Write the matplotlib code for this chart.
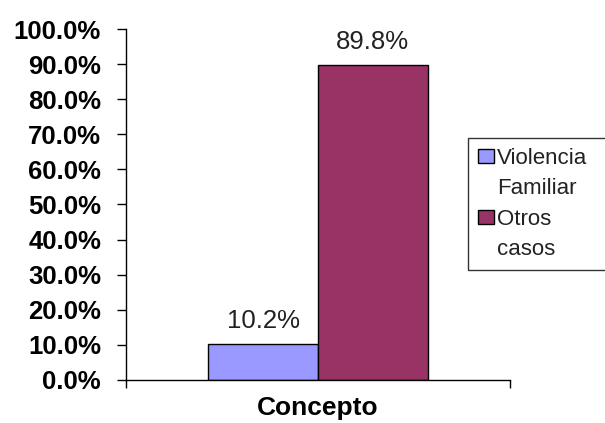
import numpy as np
import matplotlib.pyplot as plt
from matplotlib.patches import Patch

plt.rcParams['font.family'] = ['Liberation Sans', 'DejaVu Sans']

# data
categoria = ['Concepto']
series = ['Violencia\nFamiliar', 'Otros\ncasos']
valores = [10.2, 89.8]
colores = ['#9999FF', '#993366']
yticks = np.arange(0, 101, 10)

fig = plt.figure(figsize=(6.05, 4.23), dpi=100)
ax = fig.add_axes([0.2083, 0.1017, 0.6347, 0.8297])

bar_width = 0.286
offsets = [-bar_width / 2, bar_width / 2]
bars = []
for val, off, col, name in zip(valores, offsets, colores, series):
    b = ax.bar(off, val, width=bar_width, color=col, edgecolor='black', linewidth=1, label=name)
    bars.append(b)
    ax.text(off, val + 4.6, f'{val:.1f}%', ha='center', va='baseline', fontsize=18.5, color='#222222')

ax.set_xlim(-0.5, 0.5)
ax.set_ylim(0, 100)
ax.set_yticks(yticks)
ax.set_yticklabels([f'{v:.1f}%' for v in yticks], fontsize=18.5, fontweight='bold')
ax.set_xticks([-0.5, 0.5])
ax.set_xticklabels(['', ''])
ax.tick_params(axis='y', direction='out', length=6.5, width=1, pad=11.5)
ax.tick_params(axis='x', direction='out', length=6, width=1)
ax.set_xlabel(categoria[0], fontsize=19, fontweight='bold', labelpad=2)
for side in ['top', 'right']:
    ax.spines[side].set_visible(False)
for side in ['left', 'bottom']:
    ax.spines[side].set_linewidth(1)

# legend: one row per text line, swatch only next to the first line
handles, labels = [], []
for b, name in zip(bars, series):
    lines = name.split('\n')
    handles.append(b)
    labels.append(lines[0])
    for extra in lines[1:]:
        handles.append(Patch(visible=False))
        labels.append(extra)

# box runs past the right edge of the figure
leg_box = (468 / 605, 1 - 268 / 423, 145 / 605, 130 / 423)
leg = ax.legend(handles, labels, loc='upper left', bbox_to_anchor=leg_box,
                bbox_transform=fig.transFigure, mode='expand',
                fontsize=16, frameon=True, fancybox=False,
                handlelength=0.72, handleheight=0.55, handletextpad=0.12,
                borderpad=0.45, labelspacing=0.42, borderaxespad=0)
leg.get_frame().set_edgecolor('black')
leg.get_frame().set_linewidth(1)
for t in leg.get_texts():
    t.set_color('#222222')

fig.savefig('out.png', dpi=100)
